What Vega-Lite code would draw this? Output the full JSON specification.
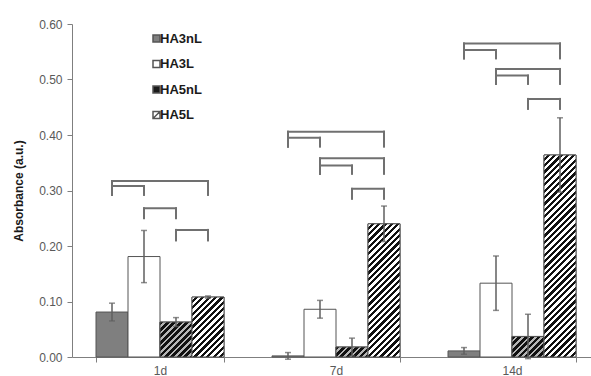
{
  "$schema": "https://vega.github.io/schema/vega-lite/v6.json",
  "width": 519,
  "height": 333,
  "autosize": {"type": "none"},
  "padding": {"left": 72, "top": 24, "right": 0, "bottom": 19},
  "background": "white",
  "config": {
    "view": {"stroke": null},
    "font": "Liberation Sans",
    "axis": {
      "domainColor": "#7f7f7f",
      "tickColor": "#7f7f7f",
      "tickSize": 5,
      "labelColor": "#595959",
      "labelFontSize": 12,
      "labelFont": "Liberation Sans",
      "grid": false
    }
  },
  "params": [
    {"name": "hatchLight", "value": [
      {"offset":0,"color":"#fff"},{"offset":0.0125,"color":"#fff"},{"offset":0.0125,"color":"#111"},{"offset":0.025,"color":"#111"},
      {"offset":0.025,"color":"#fff"},{"offset":0.0375,"color":"#fff"},{"offset":0.0375,"color":"#111"},{"offset":0.05,"color":"#111"},
      {"offset":0.05,"color":"#fff"},{"offset":0.0625,"color":"#fff"},{"offset":0.0625,"color":"#111"},{"offset":0.075,"color":"#111"},
      {"offset":0.075,"color":"#fff"},{"offset":0.0875,"color":"#fff"},{"offset":0.0875,"color":"#111"},{"offset":0.1,"color":"#111"},
      {"offset":0.1,"color":"#fff"},{"offset":0.1125,"color":"#fff"},{"offset":0.1125,"color":"#111"},{"offset":0.125,"color":"#111"},
      {"offset":0.125,"color":"#fff"},{"offset":0.1375,"color":"#fff"},{"offset":0.1375,"color":"#111"},{"offset":0.15,"color":"#111"},
      {"offset":0.15,"color":"#fff"},{"offset":0.1625,"color":"#fff"},{"offset":0.1625,"color":"#111"},{"offset":0.175,"color":"#111"},
      {"offset":0.175,"color":"#fff"},{"offset":0.1875,"color":"#fff"},{"offset":0.1875,"color":"#111"},{"offset":0.2,"color":"#111"},
      {"offset":0.2,"color":"#fff"},{"offset":0.2125,"color":"#fff"},{"offset":0.2125,"color":"#111"},{"offset":0.225,"color":"#111"},
      {"offset":0.225,"color":"#fff"},{"offset":0.2375,"color":"#fff"},{"offset":0.2375,"color":"#111"},{"offset":0.25,"color":"#111"},
      {"offset":0.25,"color":"#fff"},{"offset":0.2625,"color":"#fff"},{"offset":0.2625,"color":"#111"},{"offset":0.275,"color":"#111"},
      {"offset":0.275,"color":"#fff"},{"offset":0.2875,"color":"#fff"},{"offset":0.2875,"color":"#111"},{"offset":0.3,"color":"#111"},
      {"offset":0.3,"color":"#fff"},{"offset":0.3125,"color":"#fff"},{"offset":0.3125,"color":"#111"},{"offset":0.325,"color":"#111"},
      {"offset":0.325,"color":"#fff"},{"offset":0.3375,"color":"#fff"},{"offset":0.3375,"color":"#111"},{"offset":0.35,"color":"#111"},
      {"offset":0.35,"color":"#fff"},{"offset":0.3625,"color":"#fff"},{"offset":0.3625,"color":"#111"},{"offset":0.375,"color":"#111"},
      {"offset":0.375,"color":"#fff"},{"offset":0.3875,"color":"#fff"},{"offset":0.3875,"color":"#111"},{"offset":0.4,"color":"#111"},
      {"offset":0.4,"color":"#fff"},{"offset":0.4125,"color":"#fff"},{"offset":0.4125,"color":"#111"},{"offset":0.425,"color":"#111"},
      {"offset":0.425,"color":"#fff"},{"offset":0.4375,"color":"#fff"},{"offset":0.4375,"color":"#111"},{"offset":0.45,"color":"#111"},
      {"offset":0.45,"color":"#fff"},{"offset":0.4625,"color":"#fff"},{"offset":0.4625,"color":"#111"},{"offset":0.475,"color":"#111"},
      {"offset":0.475,"color":"#fff"},{"offset":0.4875,"color":"#fff"},{"offset":0.4875,"color":"#111"},{"offset":0.5,"color":"#111"},
      {"offset":0.5,"color":"#fff"},{"offset":0.5125,"color":"#fff"},{"offset":0.5125,"color":"#111"},{"offset":0.525,"color":"#111"},
      {"offset":0.525,"color":"#fff"},{"offset":0.5375,"color":"#fff"},{"offset":0.5375,"color":"#111"},{"offset":0.55,"color":"#111"},
      {"offset":0.55,"color":"#fff"},{"offset":0.5625,"color":"#fff"},{"offset":0.5625,"color":"#111"},{"offset":0.575,"color":"#111"},
      {"offset":0.575,"color":"#fff"},{"offset":0.5875,"color":"#fff"},{"offset":0.5875,"color":"#111"},{"offset":0.6,"color":"#111"},
      {"offset":0.6,"color":"#fff"},{"offset":0.6125,"color":"#fff"},{"offset":0.6125,"color":"#111"},{"offset":0.625,"color":"#111"},
      {"offset":0.625,"color":"#fff"},{"offset":0.6375,"color":"#fff"},{"offset":0.6375,"color":"#111"},{"offset":0.65,"color":"#111"},
      {"offset":0.65,"color":"#fff"},{"offset":0.6625,"color":"#fff"},{"offset":0.6625,"color":"#111"},{"offset":0.675,"color":"#111"},
      {"offset":0.675,"color":"#fff"},{"offset":0.6875,"color":"#fff"},{"offset":0.6875,"color":"#111"},{"offset":0.7,"color":"#111"},
      {"offset":0.7,"color":"#fff"},{"offset":0.7125,"color":"#fff"},{"offset":0.7125,"color":"#111"},{"offset":0.725,"color":"#111"},
      {"offset":0.725,"color":"#fff"},{"offset":0.7375,"color":"#fff"},{"offset":0.7375,"color":"#111"},{"offset":0.75,"color":"#111"},
      {"offset":0.75,"color":"#fff"},{"offset":0.7625,"color":"#fff"},{"offset":0.7625,"color":"#111"},{"offset":0.775,"color":"#111"},
      {"offset":0.775,"color":"#fff"},{"offset":0.7875,"color":"#fff"},{"offset":0.7875,"color":"#111"},{"offset":0.8,"color":"#111"},
      {"offset":0.8,"color":"#fff"},{"offset":0.8125,"color":"#fff"},{"offset":0.8125,"color":"#111"},{"offset":0.825,"color":"#111"},
      {"offset":0.825,"color":"#fff"},{"offset":0.8375,"color":"#fff"},{"offset":0.8375,"color":"#111"},{"offset":0.85,"color":"#111"},
      {"offset":0.85,"color":"#fff"},{"offset":0.8625,"color":"#fff"},{"offset":0.8625,"color":"#111"},{"offset":0.875,"color":"#111"},
      {"offset":0.875,"color":"#fff"},{"offset":0.8875,"color":"#fff"},{"offset":0.8875,"color":"#111"},{"offset":0.9,"color":"#111"},
      {"offset":0.9,"color":"#fff"},{"offset":0.9125,"color":"#fff"},{"offset":0.9125,"color":"#111"},{"offset":0.925,"color":"#111"},
      {"offset":0.925,"color":"#fff"},{"offset":0.9375,"color":"#fff"},{"offset":0.9375,"color":"#111"},{"offset":0.95,"color":"#111"},
      {"offset":0.95,"color":"#fff"},{"offset":0.9625,"color":"#fff"},{"offset":0.9625,"color":"#111"},{"offset":0.975,"color":"#111"},
      {"offset":0.975,"color":"#fff"},{"offset":0.9875,"color":"#fff"},{"offset":0.9875,"color":"#111"},{"offset":1,"color":"#111"}
    ]},
    {"name": "hatchDark", "value": [
      {"offset":0,"color":"#111"},{"offset":0.015,"color":"#111"},{"offset":0.015,"color":"#b5b5b5"},{"offset":0.025,"color":"#b5b5b5"},
      {"offset":0.025,"color":"#111"},{"offset":0.04,"color":"#111"},{"offset":0.04,"color":"#b5b5b5"},{"offset":0.05,"color":"#b5b5b5"},
      {"offset":0.05,"color":"#111"},{"offset":0.065,"color":"#111"},{"offset":0.065,"color":"#b5b5b5"},{"offset":0.075,"color":"#b5b5b5"},
      {"offset":0.075,"color":"#111"},{"offset":0.09,"color":"#111"},{"offset":0.09,"color":"#b5b5b5"},{"offset":0.1,"color":"#b5b5b5"},
      {"offset":0.1,"color":"#111"},{"offset":0.115,"color":"#111"},{"offset":0.115,"color":"#b5b5b5"},{"offset":0.125,"color":"#b5b5b5"},
      {"offset":0.125,"color":"#111"},{"offset":0.14,"color":"#111"},{"offset":0.14,"color":"#b5b5b5"},{"offset":0.15,"color":"#b5b5b5"},
      {"offset":0.15,"color":"#111"},{"offset":0.165,"color":"#111"},{"offset":0.165,"color":"#b5b5b5"},{"offset":0.175,"color":"#b5b5b5"},
      {"offset":0.175,"color":"#111"},{"offset":0.19,"color":"#111"},{"offset":0.19,"color":"#b5b5b5"},{"offset":0.2,"color":"#b5b5b5"},
      {"offset":0.2,"color":"#111"},{"offset":0.215,"color":"#111"},{"offset":0.215,"color":"#b5b5b5"},{"offset":0.225,"color":"#b5b5b5"},
      {"offset":0.225,"color":"#111"},{"offset":0.24,"color":"#111"},{"offset":0.24,"color":"#b5b5b5"},{"offset":0.25,"color":"#b5b5b5"},
      {"offset":0.25,"color":"#111"},{"offset":0.265,"color":"#111"},{"offset":0.265,"color":"#b5b5b5"},{"offset":0.275,"color":"#b5b5b5"},
      {"offset":0.275,"color":"#111"},{"offset":0.29,"color":"#111"},{"offset":0.29,"color":"#b5b5b5"},{"offset":0.3,"color":"#b5b5b5"},
      {"offset":0.3,"color":"#111"},{"offset":0.315,"color":"#111"},{"offset":0.315,"color":"#b5b5b5"},{"offset":0.325,"color":"#b5b5b5"},
      {"offset":0.325,"color":"#111"},{"offset":0.34,"color":"#111"},{"offset":0.34,"color":"#b5b5b5"},{"offset":0.35,"color":"#b5b5b5"},
      {"offset":0.35,"color":"#111"},{"offset":0.365,"color":"#111"},{"offset":0.365,"color":"#b5b5b5"},{"offset":0.375,"color":"#b5b5b5"},
      {"offset":0.375,"color":"#111"},{"offset":0.39,"color":"#111"},{"offset":0.39,"color":"#b5b5b5"},{"offset":0.4,"color":"#b5b5b5"},
      {"offset":0.4,"color":"#111"},{"offset":0.415,"color":"#111"},{"offset":0.415,"color":"#b5b5b5"},{"offset":0.425,"color":"#b5b5b5"},
      {"offset":0.425,"color":"#111"},{"offset":0.44,"color":"#111"},{"offset":0.44,"color":"#b5b5b5"},{"offset":0.45,"color":"#b5b5b5"},
      {"offset":0.45,"color":"#111"},{"offset":0.465,"color":"#111"},{"offset":0.465,"color":"#b5b5b5"},{"offset":0.475,"color":"#b5b5b5"},
      {"offset":0.475,"color":"#111"},{"offset":0.49,"color":"#111"},{"offset":0.49,"color":"#b5b5b5"},{"offset":0.5,"color":"#b5b5b5"},
      {"offset":0.5,"color":"#111"},{"offset":0.515,"color":"#111"},{"offset":0.515,"color":"#b5b5b5"},{"offset":0.525,"color":"#b5b5b5"},
      {"offset":0.525,"color":"#111"},{"offset":0.54,"color":"#111"},{"offset":0.54,"color":"#b5b5b5"},{"offset":0.55,"color":"#b5b5b5"},
      {"offset":0.55,"color":"#111"},{"offset":0.565,"color":"#111"},{"offset":0.565,"color":"#b5b5b5"},{"offset":0.575,"color":"#b5b5b5"},
      {"offset":0.575,"color":"#111"},{"offset":0.59,"color":"#111"},{"offset":0.59,"color":"#b5b5b5"},{"offset":0.6,"color":"#b5b5b5"},
      {"offset":0.6,"color":"#111"},{"offset":0.615,"color":"#111"},{"offset":0.615,"color":"#b5b5b5"},{"offset":0.625,"color":"#b5b5b5"},
      {"offset":0.625,"color":"#111"},{"offset":0.64,"color":"#111"},{"offset":0.64,"color":"#b5b5b5"},{"offset":0.65,"color":"#b5b5b5"},
      {"offset":0.65,"color":"#111"},{"offset":0.665,"color":"#111"},{"offset":0.665,"color":"#b5b5b5"},{"offset":0.675,"color":"#b5b5b5"},
      {"offset":0.675,"color":"#111"},{"offset":0.69,"color":"#111"},{"offset":0.69,"color":"#b5b5b5"},{"offset":0.7,"color":"#b5b5b5"},
      {"offset":0.7,"color":"#111"},{"offset":0.715,"color":"#111"},{"offset":0.715,"color":"#b5b5b5"},{"offset":0.725,"color":"#b5b5b5"},
      {"offset":0.725,"color":"#111"},{"offset":0.74,"color":"#111"},{"offset":0.74,"color":"#b5b5b5"},{"offset":0.75,"color":"#b5b5b5"},
      {"offset":0.75,"color":"#111"},{"offset":0.765,"color":"#111"},{"offset":0.765,"color":"#b5b5b5"},{"offset":0.775,"color":"#b5b5b5"},
      {"offset":0.775,"color":"#111"},{"offset":0.79,"color":"#111"},{"offset":0.79,"color":"#b5b5b5"},{"offset":0.8,"color":"#b5b5b5"},
      {"offset":0.8,"color":"#111"},{"offset":0.815,"color":"#111"},{"offset":0.815,"color":"#b5b5b5"},{"offset":0.825,"color":"#b5b5b5"},
      {"offset":0.825,"color":"#111"},{"offset":0.84,"color":"#111"},{"offset":0.84,"color":"#b5b5b5"},{"offset":0.85,"color":"#b5b5b5"},
      {"offset":0.85,"color":"#111"},{"offset":0.865,"color":"#111"},{"offset":0.865,"color":"#b5b5b5"},{"offset":0.875,"color":"#b5b5b5"},
      {"offset":0.875,"color":"#111"},{"offset":0.89,"color":"#111"},{"offset":0.89,"color":"#b5b5b5"},{"offset":0.9,"color":"#b5b5b5"},
      {"offset":0.9,"color":"#111"},{"offset":0.915,"color":"#111"},{"offset":0.915,"color":"#b5b5b5"},{"offset":0.925,"color":"#b5b5b5"},
      {"offset":0.925,"color":"#111"},{"offset":0.94,"color":"#111"},{"offset":0.94,"color":"#b5b5b5"},{"offset":0.95,"color":"#b5b5b5"},
      {"offset":0.95,"color":"#111"},{"offset":0.965,"color":"#111"},{"offset":0.965,"color":"#b5b5b5"},{"offset":0.975,"color":"#b5b5b5"},
      {"offset":0.975,"color":"#111"},{"offset":0.99,"color":"#111"},{"offset":0.99,"color":"#b5b5b5"},{"offset":1,"color":"#b5b5b5"}
    ]}
  ],
  "datasets": {
    "bars": [
      {"day": "1d", "series": "HA3nL", "value": 0.081, "err": 0.016},
      {"day": "1d", "series": "HA3L", "value": 0.181, "err": 0.047},
      {"day": "1d", "series": "HA5nL", "value": 0.063, "err": 0.008},
      {"day": "1d", "series": "HA5L", "value": 0.108, "err": 0.002},
      {"day": "7d", "series": "HA3nL", "value": 0.002, "err": 0.006},
      {"day": "7d", "series": "HA3L", "value": 0.086, "err": 0.016},
      {"day": "7d", "series": "HA5nL", "value": 0.018, "err": 0.016},
      {"day": "7d", "series": "HA5L", "value": 0.240, "err": 0.032},
      {"day": "14d", "series": "HA3nL", "value": 0.011, "err": 0.006},
      {"day": "14d", "series": "HA3L", "value": 0.133, "err": 0.049},
      {"day": "14d", "series": "HA5nL", "value": 0.037, "err": 0.040},
      {"day": "14d", "series": "HA5L", "value": 0.364, "err": 0.067}
    ],
    "brackets": [
      {"day": "1d", "id": "1d-1", "from": "HA3nL", "to": "HA5L", "top": 0.317, "bottom": 0.292},
      {"day": "1d", "id": "1d-2", "from": "HA3nL", "to": "HA3L", "top": 0.308, "bottom": 0.292},
      {"day": "1d", "id": "1d-3", "from": "HA3L", "to": "HA5nL", "top": 0.268, "bottom": 0.250},
      {"day": "1d", "id": "1d-4", "from": "HA5nL", "to": "HA5L", "top": 0.229, "bottom": 0.210},
      {"day": "7d", "id": "7d-1", "from": "HA3nL", "to": "HA5L", "top": 0.406, "bottom": 0.379},
      {"day": "7d", "id": "7d-2", "from": "HA3nL", "to": "HA3L", "top": 0.395, "bottom": 0.379},
      {"day": "7d", "id": "7d-3", "from": "HA3L", "to": "HA5L", "top": 0.358, "bottom": 0.330},
      {"day": "7d", "id": "7d-4", "from": "HA3L", "to": "HA5nL", "top": 0.345, "bottom": 0.330},
      {"day": "7d", "id": "7d-5", "from": "HA5nL", "to": "HA5L", "top": 0.303, "bottom": 0.285},
      {"day": "14d", "id": "14d-1", "from": "HA3nL", "to": "HA5L", "top": 0.565, "bottom": 0.538},
      {"day": "14d", "id": "14d-2", "from": "HA3nL", "to": "HA3L", "top": 0.553, "bottom": 0.538},
      {"day": "14d", "id": "14d-3", "from": "HA3L", "to": "HA5L", "top": 0.519, "bottom": 0.492},
      {"day": "14d", "id": "14d-4", "from": "HA3L", "to": "HA5nL", "top": 0.507, "bottom": 0.492},
      {"day": "14d", "id": "14d-5", "from": "HA5nL", "to": "HA5L", "top": 0.465, "bottom": 0.447}
    ]
  },
  "layer": [
    {
      "data": {"name": "bars"},
      "mark": {"type": "bar", "stroke": "#555555", "strokeWidth": 1},
      "encoding": {
        "x": {
          "field": "day", "type": "nominal", "sort": ["1d", "7d", "14d"],
          "scale": {"paddingInner": 0.27273, "paddingOuter": 0.1108, "align": 0.6154},
          "axis": {"title": null, "labelAngle": 0, "tickBand": "extent", "labelPadding": 3}
        },
        "xOffset": {"field": "series", "type": "nominal", "scale": {"domain": ["HA3nL", "HA3L", "HA5nL", "HA5L"]}},
        "y": {
          "field": "value", "type": "quantitative", "title": "Absorbance (a.u.)",
          "scale": {"domain": [0, 0.6]},
          "axis": {
            "title": "Absorbance (a.u.)", "values": [0, 0.1, 0.2, 0.3, 0.4, 0.5, 0.6], "format": ".2f",
            "labelPadding": 5, "titleFontSize": 12, "titleFontWeight": "bold", "titleColor": "#1a1a1a",
            "titleFont": "Liberation Sans", "titlePadding": 13
          }
        },
        "fill": {
          "field": "series", "type": "nominal",
          "scale": {"domain": ["HA3nL", "HA3L", "HA5nL", "HA5L"], "range": ["#7f7f7f", "#ffffff", "#1a1a1a", "#ffffff"]},
          "legend": {
            "title": null, "orient": "none", "legendX": 78, "legendY": 8, "padding": 0,
            "symbolSize": 49, "symbolOpacity": 1,
            "labelFont": "Liberation Sans", "labelFontSize": 13, "labelFontWeight": "bold", "labelColor": "#1a1a1a",
            "labelOffset": -3, "rowPadding": 11.5,
            "encoding": {"symbols": {"update": {"stroke": {"value": "#555555"}, "strokeWidth": {"value": 1}}}}
          }
        }
      }
    },
    {
      "data": {"name": "bars"},
      "mark": {"type": "point", "filled": true, "opacity": 0},
      "encoding": {
        "x": {"field": "day", "type": "nominal", "sort": ["1d", "7d", "14d"]},
        "xOffset": {"field": "series", "type": "nominal"},
        "y": {"field": "value", "type": "quantitative", "title": "Absorbance (a.u.)"},
        "fill": {"field": "series", "type": "nominal"},
        "shape": {
          "field": "series", "type": "nominal",
          "scale": {"domain": ["HA3nL", "HA3L", "HA5nL", "HA5L"], "range": ["square", "square", "square", "M-1,-1H1V1H-1ZM-1,1L1,-1"]},
          "legend": {
            "title": null, "orient": "none", "legendX": 78, "legendY": 8, "padding": 0,
            "symbolSize": 49, "symbolOpacity": 1,
            "labelFont": "Liberation Sans", "labelFontSize": 13, "labelFontWeight": "bold", "labelColor": "#1a1a1a",
            "labelOffset": -3, "rowPadding": 11.5,
            "encoding": {"symbols": {"update": {"stroke": {"value": "#555555"}, "strokeWidth": {"value": 1}}}}
          }
        }
      }
    },
    {
      "data": {"name": "bars"},
      "transform": [{"filter": {"field": "series", "oneOf": ["HA5nL", "HA5L"]}}],
      "mark": {
        "type": "bar", "stroke": "#555555", "strokeWidth": 1,
        "fill": {"expr": "{gradient: 'linear', x1: 0, y1: 0, x2: 256 * bandwidth('xOffset') / (pow(bandwidth('xOffset'), 2) + pow(scale('y', 0) - scale('y', datum.value), 2)), y2: 256 * (scale('y', 0) - scale('y', datum.value)) / (pow(bandwidth('xOffset'), 2) + pow(scale('y', 0) - scale('y', datum.value), 2)), stops: datum.series === 'HA5L' ? hatchLight : hatchDark}"}
      },
      "encoding": {
        "x": {"field": "day", "type": "nominal", "sort": ["1d", "7d", "14d"]},
        "xOffset": {"field": "series", "type": "nominal"},
        "y": {"field": "value", "type": "quantitative", "title": "Absorbance (a.u.)"}
      }
    },
    {
      "data": {"name": "bars"},
      "mark": {"type": "errorbar", "color": "#5f5f5f", "thickness": 1.5, "ticks": {"size": 6}},
      "encoding": {
        "x": {"field": "day", "type": "nominal", "sort": ["1d", "7d", "14d"]},
        "xOffset": {"field": "series", "type": "nominal"},
        "y": {"field": "value", "type": "quantitative", "title": "Absorbance (a.u.)"},
        "yError": {"field": "err"}
      }
    },
    {
      "data": {"name": "brackets"},
      "transform": [{"fold": ["from", "to"], "as": ["end", "series"]}],
      "mark": {"type": "rule", "color": "#707070", "strokeWidth": 2, "strokeCap": "square"},
      "encoding": {
        "x": {"field": "day", "type": "nominal", "sort": ["1d", "7d", "14d"]},
        "xOffset": {"field": "series", "type": "nominal"},
        "y": {"field": "top", "type": "quantitative", "title": "Absorbance (a.u.)"},
        "y2": {"field": "bottom"}
      }
    },
    {
      "data": {"name": "brackets"},
      "transform": [{"fold": ["from", "to"], "as": ["end", "series"]}],
      "mark": {"type": "line", "color": "#707070", "strokeWidth": 2, "strokeCap": "square"},
      "encoding": {
        "x": {"field": "day", "type": "nominal", "sort": ["1d", "7d", "14d"]},
        "xOffset": {"field": "series", "type": "nominal"},
        "y": {"field": "top", "type": "quantitative", "title": "Absorbance (a.u.)"},
        "detail": {"field": "id"}
      }
    }
  ]
}
